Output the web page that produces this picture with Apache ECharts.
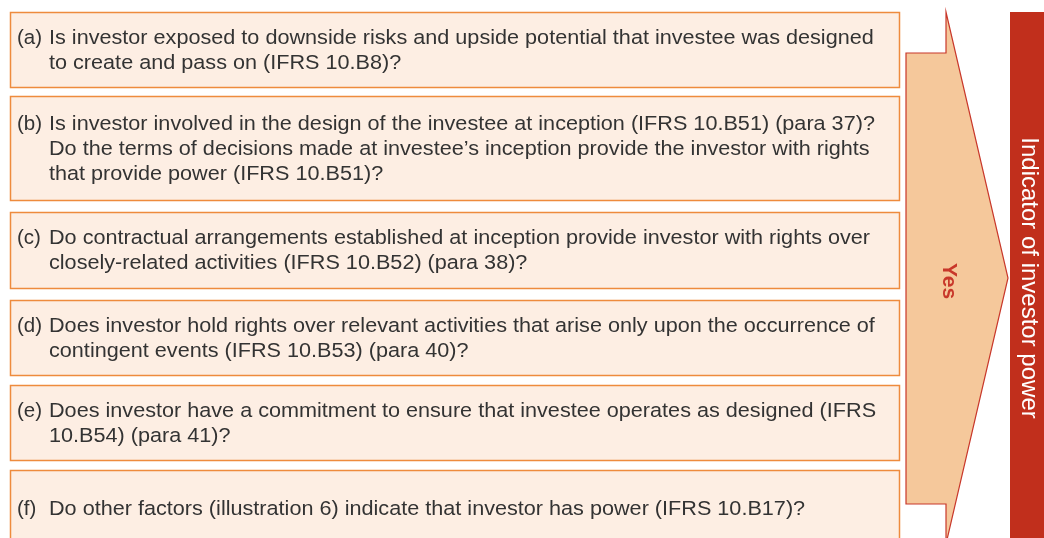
<!DOCTYPE html>
<html>
<head>
<meta charset="utf-8">
<script src="https://cdn.jsdelivr.net/npm/echarts@6/dist/echarts.min.js"></script>
<style>
  html, body { margin: 0; padding: 0; background: #fff; }
  #chart { width: 1044px; height: 538px; }
</style>
</head>
<body>
<div id="chart"></div>
<script>
// question labels and text lines
const labels = ['(a)', '(b)', '(c)', '(d)', '(e)', '(f)'];
const questions = [
  ['Is investor exposed to downside risks and upside potential that investee was designed',
   'to create and pass on (IFRS 10.B8)?'],
  ['Is investor involved in the design of the investee at inception (IFRS 10.B51) (para 37)?',
   'Do the terms of decisions made at investee\u2019s inception provide the investor with rights',
   'that provide power (IFRS 10.B51)?'],
  ['Do contractual arrangements established at inception provide investor with rights over',
   'closely-related activities (IFRS 10.B52) (para 38)?'],
  ['Does investor hold rights over relevant activities that arise only upon the occurrence of',
   'contingent events (IFRS 10.B53) (para 40)?'],
  ['Does investor have a commitment to ensure that investee operates as designed (IFRS',
   '10.B54) (para 41)?'],
  ['Do other factors (illustration 6) indicate that investor has power (IFRS 10.B17)?']
];
const arrowLabel = 'Yes';
const resultLabel = 'Indicator of investor power';

let myChart = echarts.init(document.getElementById('chart'));

// box rows (top / bottom in px)
const boxTop = [12, 96, 212, 300, 385, 470];
const boxBottom = [87, 200, 288, 375, 460, 546];
const lineH = 25;
const font = 'Helvetica, Arial, "Liberation Sans", sans-serif';
// reference type is set a little wider than Arial
const stretch = 1.055;

let elements = [];
questions.forEach((lines, i) => {
  let top = boxTop[i], h = boxBottom[i] - boxTop[i];
  elements.push({
    type: 'rect',
    shape: { x: 10.5, y: top + 0.5, width: 889, height: h },
    style: { fill: '#FDEEE3', stroke: '#EE8B3D', lineWidth: 1.5 }
  });
  let textTop = top + h / 2 - (lines.length * lineH) / 2 + 1;
  elements.push({
    type: 'text',
    x: 17, y: textTop,
    style: {
      text: labels[i], font: '20.5px ' + font, fill: '#333',
      lineHeight: lineH, verticalAlign: 'top'
    }
  });
  elements.push({
    type: 'text',
    x: 49, y: textTop, scaleX: stretch,
    style: {
      text: lines.join('\n'), font: '20.5px ' + font, fill: '#333',
      lineHeight: lineH, verticalAlign: 'top'
    }
  });
});

// arrow
elements.push({
  type: 'polygon',
  shape: { points: [[906, 53], [946, 53], [946, 12], [1008, 278], [946, 544], [946, 504], [906, 504]] },
  style: { fill: '#F5C89B', stroke: '#C8372A', lineWidth: 1.2 }
});
elements.push({
  type: 'text',
  x: 949, y: 281, rotation: -Math.PI / 2,
  style: {
    text: arrowLabel, font: 'bold 21px ' + font, fill: '#C8372A',
    align: 'center', verticalAlign: 'middle'
  }
});

// result bar
elements.push({
  type: 'rect',
  shape: { x: 1010, y: 12, width: 40, height: 540 },
  style: { fill: '#C12F1C' }
});
elements.push({
  type: 'text',
  x: 1029, y: 278, rotation: -Math.PI / 2,
  style: {
    text: resultLabel, font: '24px ' + font, fill: '#fff',
    align: 'center', verticalAlign: 'middle'
  }
});

myChart.setOption({
  animation: false,
  graphic: { elements: elements }
});

window.addEventListener('resize', () => {
  myChart.resize();
});
</script>
</body>
</html>
